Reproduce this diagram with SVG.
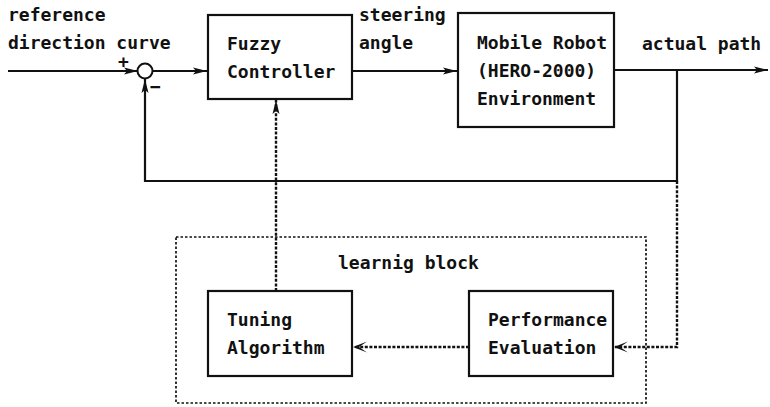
<svg xmlns="http://www.w3.org/2000/svg" width="770" height="407" viewBox="0 0 770 407">
<defs>
<style>
text{font-family:"DejaVu Sans Mono","Liberation Mono",monospace;font-size:18px;font-weight:bold;fill:#111}
.sg{font-size:18px}
.box{fill:#fff;stroke:#111;stroke-width:2.2}
.ln{fill:none;stroke:#111;stroke-width:2.2}
.dt{fill:none;stroke:#111;stroke-width:2.4;stroke-dasharray:3,1.6}
.dtb{fill:none;stroke:#111;stroke-width:1.7;stroke-dasharray:2.5,2}
</style>
<marker id="a" markerWidth="15" markerHeight="8" refX="14" refY="4" orient="auto" markerUnits="userSpaceOnUse">
<path d="M0,0.5 L14,4 L0,7.5 L3,4 Z" fill="#111"/>
</marker>
</defs>
<g id="connectors">
<path class="ln" d="M8,71 L138,71" marker-end="url(#a)"/>
<path class="ln" d="M152,71 L207,71" marker-end="url(#a)"/>
<path class="ln" d="M352,71 L457,71" marker-end="url(#a)"/>
<path class="ln" d="M614,70 L768,70" marker-end="url(#a)"/>
<path class="ln" d="M677,70 L677,181 L145,181 L145,79" marker-end="url(#a)"/>
<path class="dt" d="M276,291 L276,100" marker-end="url(#a)"/>
<path class="dt" d="M677,181 L677,347 L615,347"/>
<path class="dt" d="M469,347 L354,347"/>
<path d="M353,347 L367,341.5 L359,347 L367,352.5 Z" fill="#111"/>
<path d="M614,347 L628,341.5 L620,347 L628,352.5 Z" fill="#111"/>
</g>
<g id="sum">
<circle cx="145" cy="71" r="7.5" fill="#fff" stroke="#111" stroke-width="2"/>
<text class="sg" x="118" y="68">+</text>
<text class="sg" x="150" y="93">−</text>
</g>
<g id="labels">
<text x="8" y="21">reference</text>
<text x="8" y="49">direction curve</text>
<text x="359" y="21">steering</text>
<text x="359" y="49">angle</text>
<text x="642" y="50">actual path</text>
</g>
<g id="fuzzy">
<rect class="box" x="208" y="15" width="144" height="84"/>
<text x="227" y="50">Fuzzy</text>
<text x="227" y="78">Controller</text>
</g>
<g id="robot">
<rect class="box" x="458" y="13" width="156" height="114"/>
<text x="477" y="49">Mobile Robot</text>
<text x="477" y="77">(HERO-2000)</text>
<text x="477" y="105">Environment</text>
</g>
<g id="learning">
<rect class="dtb" x="176" y="237" width="470" height="166"/>
<text x="338" y="269">learnig block</text>
</g>
<g id="tuning">
<rect class="box" x="208" y="291" width="144" height="85"/>
<text x="227" y="326">Tuning</text>
<text x="227" y="354">Algorithm</text>
</g>
<g id="perf">
<rect class="box" x="469" y="291" width="144" height="85"/>
<text x="488" y="326">Performance</text>
<text x="488" y="354">Evaluation</text>
</g>
</svg>
